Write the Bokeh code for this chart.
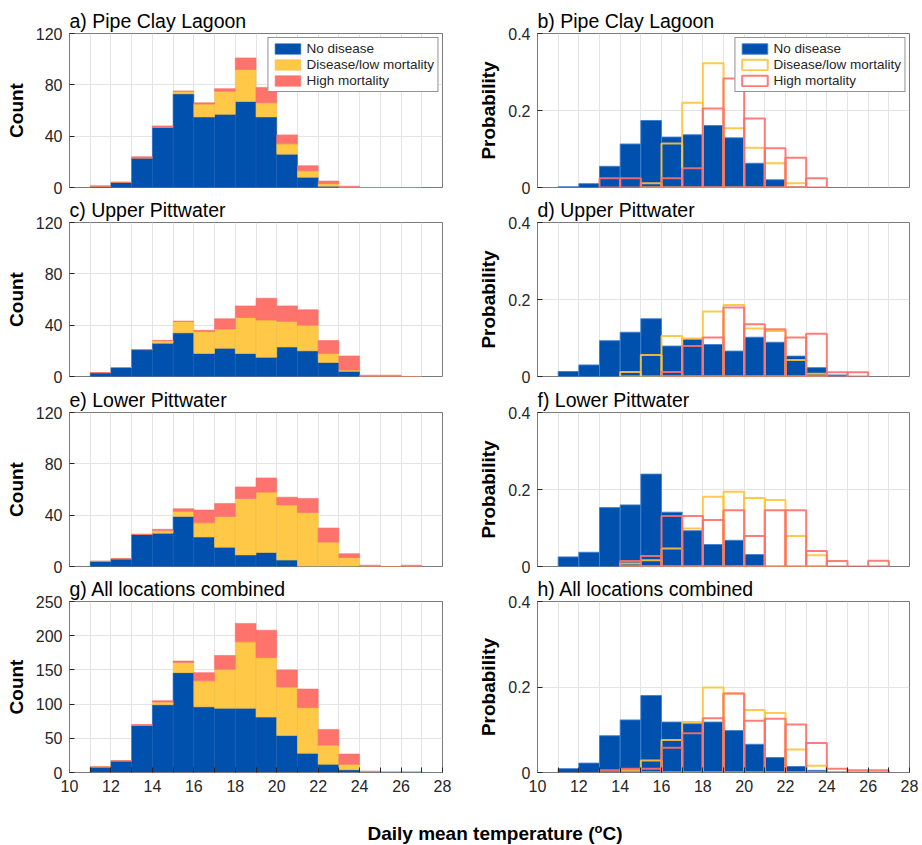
from bokeh.plotting import figure
from bokeh.models import FixedTicker, Legend, LegendItem, ColumnDataSource, Div, Spacer, Range1d
from bokeh.layouts import column, row
from bokeh.embed import file_html
from bokeh.resources import INLINE

# ---------------- data ----------------
bin_lo = [11, 12, 13, 14, 15, 16, 17, 18, 19, 20, 21, 22, 23, 24, 25, 26]
categories = ["No disease", "Disease/low mortality", "High mortality"]

# counts (left column)
pcl_none = [1, 4, 23, 47, 73, 55, 57, 67, 55, 26, 8, 1, 0, 0, 0, 0]
pcl_low = [0, 0, 0, 0, 2, 10, 18, 25, 11, 8, 5, 2, 0, 0, 0, 0]
pcl_high = [0, 0, 1, 1, 0, 1, 2, 9, 12, 7, 4, 2, 1, 0, 0, 0]

upw_none = [3, 7, 21, 26, 34, 18, 22, 18, 15, 23, 20, 11, 4, 0, 0, 0]
upw_low = [0, 0, 0, 2, 9, 17, 15, 28, 29, 20, 20, 7, 1, 0, 0, 0]
upw_high = [0, 0, 0, 0, 0, 1, 8, 9, 17, 12, 12, 10, 11, 1, 1, 0]

lpw_none = [4, 6, 25, 26, 39, 23, 15, 9, 11, 5, 0, 0, 0, 0, 0, 0]
lpw_low = [0, 0, 0, 2, 4, 11, 24, 44, 47, 43, 42, 19, 7, 0, 0, 0]
lpw_high = [0, 0, 0, 1, 2, 10, 10, 9, 11, 6, 11, 11, 3, 1, 0, 1]

all_none = [8, 17, 69, 99, 146, 96, 94, 94, 81, 54, 28, 12, 4, 0, 0, 0]
all_low = [0, 0, 0, 4, 15, 38, 57, 97, 87, 71, 67, 28, 8, 0, 0, 0]
all_high = [0, 0, 1, 2, 2, 12, 20, 27, 40, 25, 27, 23, 15, 2, 1, 1]

# probabilities (right column)
pcl_p_none = [0.002, 0.010, 0.055, 0.113, 0.174, 0.131, 0.137, 0.161, 0.129, 0.063, 0.020, 0.002, 0, 0, 0, 0]
pcl_p_low = [0, 0, 0, 0, 0.011, 0.114, 0.220, 0.323, 0.154, 0.103, 0.063, 0.011, 0, 0, 0, 0]
pcl_p_high = [0, 0, 0.024, 0.024, 0, 0.024, 0.050, 0.205, 0.283, 0.179, 0.102, 0.077, 0.024, 0, 0, 0]

upw_p_none = [0.013, 0.030, 0.093, 0.115, 0.150, 0.079, 0.097, 0.083, 0.066, 0.102, 0.089, 0.053, 0.023, 0.004, 0, 0]
upw_p_low = [0, 0, 0, 0.012, 0.056, 0.105, 0.099, 0.169, 0.186, 0.125, 0.118, 0.043, 0.007, 0, 0, 0]
upw_p_high = [0, 0, 0, 0, 0, 0.012, 0.079, 0.101, 0.179, 0.136, 0.123, 0.101, 0.111, 0.011, 0.011, 0]

lpw_p_none = [0.025, 0.037, 0.153, 0.160, 0.240, 0.141, 0.093, 0.057, 0.068, 0.031, 0, 0, 0, 0, 0, 0]
lpw_p_low = [0, 0, 0, 0.008, 0.016, 0.047, 0.099, 0.181, 0.194, 0.178, 0.173, 0.079, 0.029, 0, 0, 0]
lpw_p_high = [0, 0, 0, 0.014, 0.027, 0.131, 0.131, 0.121, 0.146, 0.079, 0.146, 0.146, 0.040, 0.014, 0, 0.015]

all_p_none = [0.009, 0.022, 0.086, 0.123, 0.180, 0.118, 0.114, 0.118, 0.098, 0.066, 0.035, 0.014, 0.005, 0.001, 0, 0]
all_p_low = [0, 0, 0, 0.005, 0.028, 0.076, 0.118, 0.199, 0.185, 0.146, 0.139, 0.054, 0.016, 0, 0, 0]
all_p_high = [0, 0, 0.005, 0.009, 0.009, 0.058, 0.092, 0.127, 0.185, 0.121, 0.126, 0.112, 0.069, 0.009, 0.005, 0.005]

left_titles = ["a) Pipe Clay Lagoon", "c) Upper Pittwater", "e) Lower Pittwater", "g) All locations combined"]
right_titles = ["b) Pipe Clay Lagoon", "d) Upper Pittwater", "f) Lower Pittwater", "h) All locations combined"]
count_ticks = [0, 40, 80, 120]
count_ticks_all = [0, 50, 100, 150, 200, 250]
prob_ticks = [0, 0.2, 0.4]
x_major = [10, 12, 14, 16, 18, 20, 22, 24, 26, 28]
x_minor = [11, 13, 15, 17, 19, 21, 23, 25, 27]
x_label = "Daily mean temperature"

# ---------------- style ----------------
FONT = "Liberation Sans"
BLUE = "#0050AD"
BLUE_EDGE = "#3f7fd0"
YELLOW = "#FFC846"
RED = "#FF736D"
AXIS_C = "#7a7a7a"
GRID_C = "#e4e4e4"
TXT = "#262626"

LEFT_W = 373
RIGHT_W = 372
row_geom = [  # (top border, frame height, bottom border)
    (33, 154, 8),
    (26, 154, 8),
    (28, 154, 8),
    (26, 171, 35),
]


def style(p, yticks, ylabel, show_x):
    p.title.text_font = FONT
    p.title.text_font_size = "19.5px"
    p.title.text_font_style = "normal"
    p.title.text_color = "black"
    p.title.align = "left"
    p.title.standoff = 3
    p.title.offset = 0
    p.outline_line_color = AXIS_C
    p.outline_line_width = 1
    for ax in (p.xaxis[0], p.yaxis[0]):
        ax.axis_line_color = AXIS_C
        ax.major_tick_in = 5
        ax.major_tick_out = 0
        ax.minor_tick_in = 5
        ax.minor_tick_out = 0
        ax.minor_tick_line_color = TXT
        ax.major_tick_line_color = TXT
        ax.major_label_text_font = FONT
        ax.major_label_text_font_size = "16px"
        ax.major_label_text_color = TXT
    p.xaxis.ticker = FixedTicker(ticks=x_major, minor_ticks=x_minor)
    p.xaxis.major_label_standoff = 7
    if not show_x:
        p.xaxis.visible = False
    p.yaxis.ticker = FixedTicker(ticks=yticks, minor_ticks=[])
    p.yaxis.minor_tick_line_color = None
    p.yaxis.major_label_standoff = 7
    p.yaxis.axis_label = ylabel
    p.yaxis.axis_label_text_font = FONT
    p.yaxis.axis_label_text_font_size = "19px"
    p.yaxis.axis_label_text_font_style = "bold"
    p.yaxis.axis_label_text_color = "black"
    p.yaxis.axis_label_standoff = 6
    p.xgrid.grid_line_color = GRID_C
    p.xgrid.minor_grid_line_color = GRID_C
    p.ygrid.grid_line_color = GRID_C
    p.background_fill_color = "white"
    p.border_fill_color = "white"


def span(vals):
    idx = [i for i, v in enumerate(vals) if v > 0]
    return idx[0], idx[-1] + 1


def add_legend(p, renderers):
    leg = Legend(items=[LegendItem(label=c, renderers=[r]) for c, r in zip(categories, renderers)])
    leg.location = "top_right"
    leg.margin = 4
    leg.padding = 3
    leg.spacing = 1
    leg.glyph_width = 32
    leg.glyph_height = 13
    leg.label_standoff = 3
    leg.label_text_font = FONT
    leg.label_text_font_size = "13.5px"
    leg.label_text_color = TXT
    leg.label_height = 14
    leg.border_line_color = TXT
    leg.border_line_width = 1
    leg.background_fill_alpha = 1
    p.add_layout(leg)


def left_fig(i, none, low, high):
    tb, fh, bb = row_geom[i]
    last = i == 3
    p = figure(frame_width=LEFT_W, frame_height=fh, min_border_top=tb, min_border_bottom=bb,
               min_border_left=69, min_border_right=20,
               x_range=Range1d(10, 28), y_range=Range1d(0, 250 if last else 120),
               title=left_titles[i], output_backend="svg", toolbar_location=None)
    src = ColumnDataSource(dict(x=[b + 0.5 for b in bin_lo], none=none, low=low, high=high))
    rs = p.vbar_stack(["none", "low", "high"], x="x", width=1, source=src,
                      fill_color=[BLUE, YELLOW, RED],
                      line_color=["#1d5cb0", "#f2bd45", "#f56f69"], line_width=0.6)
    style(p, count_ticks_all if last else count_ticks, "Count", last)
    if i == 0:
        add_legend(p, rs)
    return p


def right_fig(i, none, low, high):
    tb, fh, bb = row_geom[i]
    last = i == 3
    p = figure(frame_width=RIGHT_W, frame_height=fh, min_border_top=tb, min_border_bottom=bb,
               min_border_left=75, min_border_right=13,
               x_range=Range1d(10, 28), y_range=Range1d(0, 0.4),
               title=right_titles[i], output_backend="svg", toolbar_location=None)
    rs = []
    specs = [(none, BLUE, 1, BLUE_EDGE, 1.0), (low, None, 0, "#FFC23C", 2.0), (high, None, 0, "#FF6F69", 2.0)]
    for vals, fc, fa, lc, lw in specs:
        a, b = span(vals)
        src = ColumnDataSource(dict(left=bin_lo[a:b], right=[v + 1 for v in bin_lo[a:b]], top=vals[a:b]))
        r = p.quad(left="left", right="right", top="top", bottom=0, source=src,
                   fill_color=fc if fc else "white", fill_alpha=fa,
                   line_color=lc, line_width=lw, line_alpha=0.9)
        rs.append(r)
    style(p, prob_ticks, "Probability", last)
    if i == 0:
        add_legend(p, rs)
    return p


left_data = [(pcl_none, pcl_low, pcl_high), (upw_none, upw_low, upw_high),
             (lpw_none, lpw_low, lpw_high), (all_none, all_low, all_high)]
right_data = [(pcl_p_none, pcl_p_low, pcl_p_high), (upw_p_none, upw_p_low, upw_p_high),
              (lpw_p_none, lpw_p_low, lpw_p_high), (all_p_none, all_p_low, all_p_high)]

rows = []
for i in range(4):
    rows.append(row(left_fig(i, *left_data[i]), right_fig(i, *right_data[i])))

xlabel = Div(text='<div style="width:864px; text-align:center; padding-top:12px; line-height:20px; '
                  'font-family:\'Liberation Sans\', Arial, sans-serif; font-size:19px; font-weight:bold; '
                  'color:black; white-space:nowrap;">' + x_label +
                  ' (<span style="font-size:13px; position:relative; top:-7px;">o</span>C)</div>',
             width=864, height=39)
rows.append(row(Spacer(width=58, height=39), xlabel))

layout = column(*rows)

open("out.html", "w").write(file_html(layout, INLINE))
